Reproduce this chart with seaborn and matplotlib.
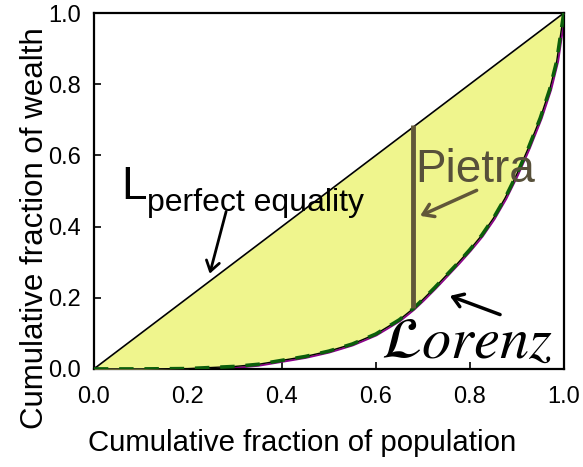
import matplotlib
matplotlib.use("Agg")
import matplotlib.pyplot as plt
import pandas as pd
import seaborn as sns

# Lorenz curve
population = [0.0, 0.1, 0.2, 0.3, 0.35, 0.4, 0.45, 0.5, 0.55, 0.6, 0.65, 0.68, 0.7, 0.725,
              0.75, 0.775, 0.8, 0.825, 0.85, 0.875, 0.9, 0.925, 0.95, 0.97, 0.985, 1.0]
wealth = [0.0, 0.0, 0.001, 0.007, 0.013, 0.024, 0.035, 0.05, 0.07, 0.098, 0.138, 0.17, 0.195, 0.228,
          0.263, 0.298, 0.335, 0.375, 0.423, 0.48, 0.547, 0.622, 0.705, 0.785, 0.865, 1.0]
equality = [0.0, 1.0]

pietra_x = 0.68
pietra_bottom = 0.17
pietra_top = 0.685
ticks = [0.0, 0.2, 0.4, 0.6, 0.8, 1.0]

sns.set_theme(style="ticks")
plt.rcParams["font.family"] = ["Liberation Sans", "DejaVu Sans"]
plt.rcParams["mathtext.fontset"] = "stix"
plt.rcParams["text.color"] = "black"
plt.rcParams["axes.labelcolor"] = "black"

fig = plt.figure(figsize=(5.83, 4.67), dpi=100)
ax = fig.add_axes([0.161, 0.21, 0.806, 0.762])

lorenz = pd.DataFrame({"population": population, "wealth": wealth})

sns.lineplot(data=lorenz, x="population", y="wealth", color="#8B008B", linewidth=3.5, ax=ax, zorder=2)
ax.fill_between(population, population, wealth, color="#EFF58D", linewidth=0, zorder=3)
sns.lineplot(x=equality, y=equality, color="black", linewidth=1.2, ax=ax, zorder=4)
sns.lineplot(data=lorenz, x="population", y="wealth", color="black", linewidth=1.0, ax=ax, zorder=4)
ax.plot(population, wealth, color="#0B5E0B", linewidth=2.6, linestyle=(0, (4, 3)), zorder=5)

ax.plot([pietra_x, pietra_x], [pietra_bottom, pietra_top], color="#615739", linewidth=3.5,
        solid_capstyle="butt", zorder=6)

ax.text(0.684, 0.525, "Pietra", fontsize=33, color="#57503A", zorder=7)
ax.annotate("", xy=(0.689, 0.427), xytext=(0.82, 0.505),
            arrowprops=dict(arrowstyle="->,head_length=0.6,head_width=0.4", color="#615739", lw=2.5),
            zorder=7)

ax.text(0.058, 0.478, "L", fontsize=33, color="black", zorder=7)
ax.text(0.113, 0.445, "perfect equality", fontsize=23, color="black", zorder=7)
ax.annotate("", xy=(0.245, 0.26), xytext=(0.283, 0.45),
            arrowprops=dict(arrowstyle="->,head_length=0.6,head_width=0.4", color="black", lw=2),
            zorder=7)

ax.text(0.61, 0.03, r"$\mathcal{L}\mathit{orenz}$", fontsize=42, color="black", zorder=7)
ax.annotate("", xy=(0.752, 0.208), xytext=(0.87, 0.15),
            arrowprops=dict(arrowstyle="->,head_length=0.6,head_width=0.4", color="black", lw=2.5),
            zorder=7)

ax.set_xlim(0, 1)
ax.set_ylim(0, 1)
ax.set_xticks(ticks)
ax.set_yticks(ticks)
ax.set_xticklabels([f"{t:.1f}" for t in ticks])
ax.set_yticklabels([f"{t:.1f}" for t in ticks])
ax.tick_params(direction="in", length=5, width=1.2, labelsize=17, top=False, right=False,
               colors="black", labelcolor="black")
ax.tick_params(axis="x", pad=12)
ax.tick_params(axis="y", pad=9)
for spine in ax.spines.values():
    spine.set_visible(True)
    spine.set_linewidth(1.6)
    spine.set_color("black")

ax.set_xlabel("Cumulative fraction of population", fontsize=21.2, color="black")
ax.xaxis.set_label_coords(0.443, -0.17)
ax.set_ylabel("Cumulative fraction of wealth", fontsize=22.5, color="black")
ax.yaxis.set_label_coords(-0.094, 0.395)

fig.savefig("out.png", dpi=100)
